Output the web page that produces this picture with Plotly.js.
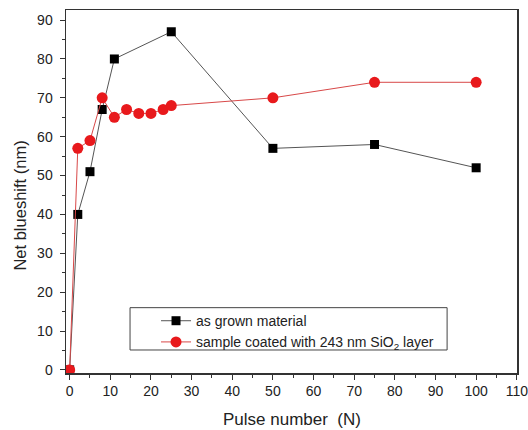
<!DOCTYPE html>
<html>
<head>
<meta charset="utf-8">
<script src="https://cdn.plot.ly/plotly-3.0.1.min.js"></script>
<style>html,body{margin:0;padding:0;background:#fff;}#chart{width:528px;height:430px;}</style>
</head>
<body>
<div id="chart"></div>
<script>
const grownX = [0, 2, 5, 8, 11, 25, 50, 75, 100];
const grownY = [0, 40, 51, 67, 80, 87, 57, 58, 52];
const coatedX = [0, 2, 5, 8, 11, 14, 17, 20, 23, 25, 50, 75, 100];
const coatedY = [0, 57, 59, 70, 65, 67, 66, 66, 67, 68, 70, 74, 74];
const xTicks = [0, 10, 20, 30, 40, 50, 60, 70, 80, 90, 100, 110];
const yTicks = [0, 10, 20, 30, 40, 50, 60, 70, 80, 90];
const xTitle = 'Pulse number&nbsp;&nbsp;(N)';
const yTitle = 'Net blueshift (nm)';

const FONT = 'Liberation Sans, Arial, sans-serif';

const traces = [
  {x: grownX, y: grownY, name: 'as grown material', mode: 'lines+markers', type: 'scatter',
   line: {color: '#555555', width: 1}, marker: {symbol: 'square', size: 9, color: '#000000'}},
  {x: coatedX, y: coatedY, name: 'sample coated with 243 nm SiO<sub>2</sub> layer', mode: 'lines+markers', type: 'scatter',
   line: {color: '#d84848', width: 1}, marker: {symbol: 'circle', size: 11, color: '#e8191c'}}
];

const axisCommon = {
  showgrid: false, zeroline: false, showline: true, mirror: true,
  linecolor: '#333333', linewidth: 1.5,
  ticks: 'outside', ticklen: 5, tickwidth: 1, tickcolor: '#333333',
  tickfont: {family: FONT, size: 14, color: '#222'},
  ticklabeloverflow: 'allow'
};

const layout = {
  width: 528, height: 430,
  margin: {l: 66, r: 11, t: 10, b: 57},
  paper_bgcolor: '#fff', plot_bgcolor: '#fff',
  showlegend: true,
  legend: {x: 0.1996, y: 0.187, xanchor: 'left', yanchor: 'top',
    borderwidth: 0, bgcolor: 'rgba(0,0,0,0)',
    font: {family: FONT, size: 14, color: '#222'},
    tracegroupgap: 0},
  shapes: [{type: 'rect', xref: 'paper', yref: 'paper', x0: 0.142, x1: 0.845, y0: 0.0634, y1: 0.18,
    line: {color: '#444', width: 1}, fillcolor: 'rgba(0,0,0,0)', layer: 'below'}],
  annotations: [
    {text: xTitle, xref: 'paper', yref: 'paper', x: 0.5, y: -0.127, xanchor: 'center', yanchor: 'middle',
     showarrow: false, font: {family: FONT, size: 17, color: '#222'}},
    {text: yTitle, xref: 'paper', yref: 'paper', x: -0.103, y: 0.46, xanchor: 'center', yanchor: 'middle',
     textangle: -90, showarrow: false, font: {family: FONT, size: 16.5, color: '#222'}}
  ],
  xaxis: Object.assign({}, axisCommon, {
    range: [-0.9, 110.05], tickvals: xTicks, ticktext: xTicks.map(String),
    minor: {ticks: 'outside', ticklen: 3, dtick: 5, tick0: 0, tickcolor: '#333'}
  }),
  yaxis: Object.assign({}, axisCommon, {
    range: [-0.8, 92.6], tickvals: yTicks, ticktext: yTicks.map(String), ticklabelstandoff: 4,
    minor: {ticks: 'outside', ticklen: 3, dtick: 5, tick0: 0, tickcolor: '#333'}
  })
};

Plotly.newPlot('chart', traces, layout, {displayModeBar: false, staticPlot: true});
</script>
</body>
</html>
